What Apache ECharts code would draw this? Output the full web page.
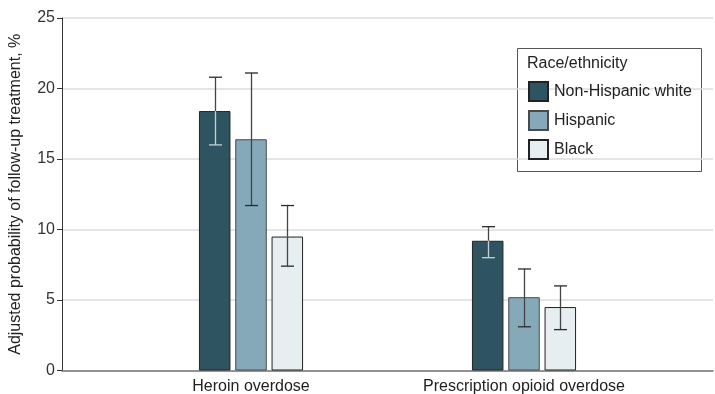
<!DOCTYPE html>
<html>
<head>
<meta charset="utf-8">
<script src="https://cdn.jsdelivr.net/npm/echarts@6/dist/echarts.min.js"></script>
<style>
  html, body { margin: 0; padding: 0; background: #fff; }
  #chart { width: 715px; height: 394px; }
</style>
</head>
<body>
<div id="chart"></div>
<script>
// Outcome groups along the x axis
const categories = ['Heroin overdose', 'Prescription opioid overdose'];
// Race/ethnicity groups (legend order)
const groups = ['Non-Hispanic white', 'Hispanic', 'Black'];

// Adjusted probability of follow-up treatment, % (point estimate, 95% CI low, high)
const whiteValues = [18.4, 9.2];
const whiteLow = [16.0, 8.0];
const whiteHigh = [20.8, 10.2];

const hispanicValues = [16.4, 5.2];
const hispanicLow = [11.7, 3.1];
const hispanicHigh = [21.1, 7.2];

const blackValues = [9.5, 4.5];
const blackLow = [7.4, 2.9];
const blackHigh = [11.7, 6.0];

// Y axis ticks
const yTicks = [0, 5, 10, 15, 20, 25];

const FONT = 'Liberation Sans';
const fills = ['#2f5461', '#85a9b8', '#e6eef1'];
const borders = ['#222', '#4a4a4a', '#222'];
const BAR_W = 31.5;
const BAR_STEP = 36.3;

const seriesValues = [whiteValues, hispanicValues, blackValues];
const seriesLow = [whiteLow, hispanicLow, blackLow];
const seriesHigh = [whiteHigh, hispanicHigh, blackHigh];

const barSeries = groups.map((name, s) => ({
  name: name,
  type: 'bar',
  xAxisIndex: 1,
  yAxisIndex: 1,
  barWidth: BAR_W,
  barGap: ((BAR_STEP - BAR_W) / BAR_W * 100) + '%',
  data: seriesValues[s],
  itemStyle: { color: fills[s], borderColor: borders[s], borderWidth: 1 },
  emphasis: { disabled: true },
  z: 2
}));

const errorSeries = groups.map((name, s) => ({
  type: 'custom',
  xAxisIndex: 1,
  yAxisIndex: 1,
  z: 5,
  silent: true,
  data: categories.map((c, i) => [i, seriesLow[s][i], seriesHigh[s][i], seriesValues[s][i]]),
  renderItem: function (params, api) {
    const idx = api.value(0);
    const x = Math.round(api.coord([idx, 0])[0] + (s - 1) * BAR_STEP) + 0.5;
    const yLo = api.coord([idx, api.value(1)])[1];
    const yHi = api.coord([idx, api.value(2)])[1];
    const yBar = api.coord([idx, api.value(3)])[1];
    const capHalf = 6.5;
    const dark = '#2a2a2a';
    // Part of the whisker lying over the dark fill gets a light stroke
    const inner = s === 0 ? '#c5d0d5' : dark;
    const children = [
      { type: 'line', shape: { x1: x, y1: yHi, x2: x, y2: Math.min(yBar, yLo) }, style: { stroke: '#444', lineWidth: 1.3 } },
      { type: 'line', shape: { x1: x, y1: Math.max(yBar, yHi), x2: x, y2: yLo }, style: { stroke: s === 0 ? inner : '#444', lineWidth: 1.3 } },
      { type: 'line', shape: { x1: x - capHalf, y1: yHi, x2: x + capHalf, y2: yHi }, style: { stroke: dark, lineWidth: 1.3 } },
      { type: 'line', shape: { x1: x - capHalf, y1: yLo, x2: x + capHalf, y2: yLo }, style: { stroke: yLo > yBar ? inner : dark, lineWidth: 1.3 } }
    ];
    return { type: 'group', children: children };
  }
}));

const chart = echarts.init(document.getElementById('chart'), null, { renderer: 'canvas' });
chart.setOption({
  animation: false,
  backgroundColor: '#fff',
  textStyle: { fontFamily: FONT },
  grid: [
    { left: 62, right: 2, top: 18, bottom: 23.5, containLabel: false, outerBoundsMode: 'none' },
    { left: 114.5, width: 546, top: 18, bottom: 23.5, containLabel: false, outerBoundsMode: 'none' }
  ],
  xAxis: [
    {
      gridIndex: 0, type: 'value', min: 0, max: 1,
      axisLine: { show: true, lineStyle: { color: '#777', width: 1.5 } },
      axisTick: { show: false }, axisLabel: { show: false }, splitLine: { show: false }
    },
    {
      gridIndex: 1, type: 'category', data: categories,
      axisLine: { show: false }, axisTick: { show: false },
      axisLabel: { margin: 8, fontSize: 16, color: '#222', fontFamily: FONT }
    }
  ],
  yAxis: [
    {
      gridIndex: 0, type: 'value', min: yTicks[0], max: yTicks[yTicks.length - 1], interval: 5,
      name: 'Adjusted probability of follow-up treatment, %',
      nameLocation: 'middle', nameGap: 38,
      nameTextStyle: { fontSize: 16, color: '#222', fontFamily: FONT },
      axisLine: { show: true, lineStyle: { color: '#333', width: 1 } },
      axisTick: { show: true, length: 5, lineStyle: { color: '#333' } },
      axisLabel: { margin: 7, fontSize: 16, color: '#333', fontFamily: FONT },
      splitLine: { show: true, lineStyle: { color: '#dcdcdc', width: 1.5 } }
    },
    {
      gridIndex: 1, type: 'value', min: yTicks[0], max: yTicks[yTicks.length - 1], interval: 5,
      show: false, splitLine: { show: false }
    }
  ],
  legend: {
    data: groups,
    orient: 'vertical',
    left: 528, top: 81,
    itemWidth: 19, itemHeight: 19, itemGap: 8,
    icon: 'rect',
    padding: 0,
    textStyle: { fontSize: 16, lineHeight: 19, color: '#222', fontFamily: FONT, padding: [0, 0, 0, 1] },
    selectedMode: false
  },
  graphic: [
    {
      type: 'rect', left: 517, top: 48, z: 0,
      shape: { width: 184, height: 123 },
      style: { fill: '#fff', stroke: '#555', lineWidth: 1 }
    },
    {
      type: 'text', left: 527, top: 56, z: 1,
      style: { text: 'Race/ethnicity', font: '16px "Liberation Sans"', fill: '#222' }
    }
  ],
  series: barSeries.concat(errorSeries)
});
</script>
</body>
</html>
